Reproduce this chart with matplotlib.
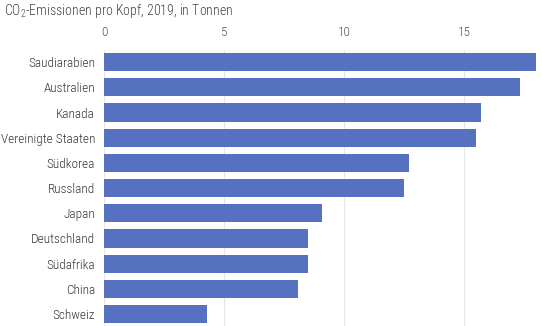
#!/usr/bin/env python3
import matplotlib
matplotlib.use("Agg")
import matplotlib.pyplot as plt
from matplotlib import font_manager

laender = [
    "Saudiarabien", "Australien", "Kanada", "Vereinigte Staaten", "Südkorea",
    "Russland", "Japan", "Deutschland", "Südafrika", "China", "Schweiz",
]
tonnen = [18.0, 17.35, 15.7, 15.5, 12.7, 12.5, 9.1, 8.5, 8.5, 8.1, 4.3]
ticks = [0, 5, 10, 15]

# look for a narrow font, the reference uses a condensed face
fonts = font_manager.fontManager.ttflist
names = {f.name for f in fonts}
stretch = "normal"
if "Roboto Condensed" in names:
    family = "Roboto Condensed"
elif any(f.name == "DejaVu Sans" and f.stretch == "condensed" for f in fonts):
    family, stretch = "DejaVu Sans", "condensed"
elif "Liberation Sans Narrow" in names:
    family = "Liberation Sans Narrow"
else:
    family = "Lato"
plt.rcParams["font.family"] = [family, "DejaVu Sans"]
plt.rcParams["font.stretch"] = stretch
plt.rcParams["font.weight"] = "light"
plt.rcParams["mathtext.fontset"] = "custom"
plt.rcParams["mathtext.rm"] = family + ":light"

fig = plt.figure(figsize=(5.42, 3.26), dpi=100)
ax = fig.add_axes([0.1919, -0.002, 0.799, 0.85])

y = list(range(len(laender)))
ax.barh(y, tonnen, height=0.72, color="#5571bf", zorder=2)
ax.set_xlim(0, 18.05)
ax.set_ylim(len(laender) - 0.5, -0.5)
ax.set_yticks(y)
ax.set_yticklabels(laender, fontsize=9.5, color="#383838")
ax.set_xticks(ticks)
ax.xaxis.tick_top()
ax.tick_params(axis="x", length=0, pad=7.5, labelsize=9.5, labelcolor="#555555")
ax.tick_params(axis="y", length=0, pad=6.5)
ax.grid(axis="x", color="#e6e6e6", linewidth=0.8, zorder=0)
for s in ax.spines.values():
    s.set_visible(False)

fig.text(0.007, 0.965, r"CO$_\mathrm{2}$-Emissionen pro Kopf, 2019, in Tonnen",
         fontsize=10, color="#444444", va="center", ha="left")

fig.savefig("out.png", dpi=100)
